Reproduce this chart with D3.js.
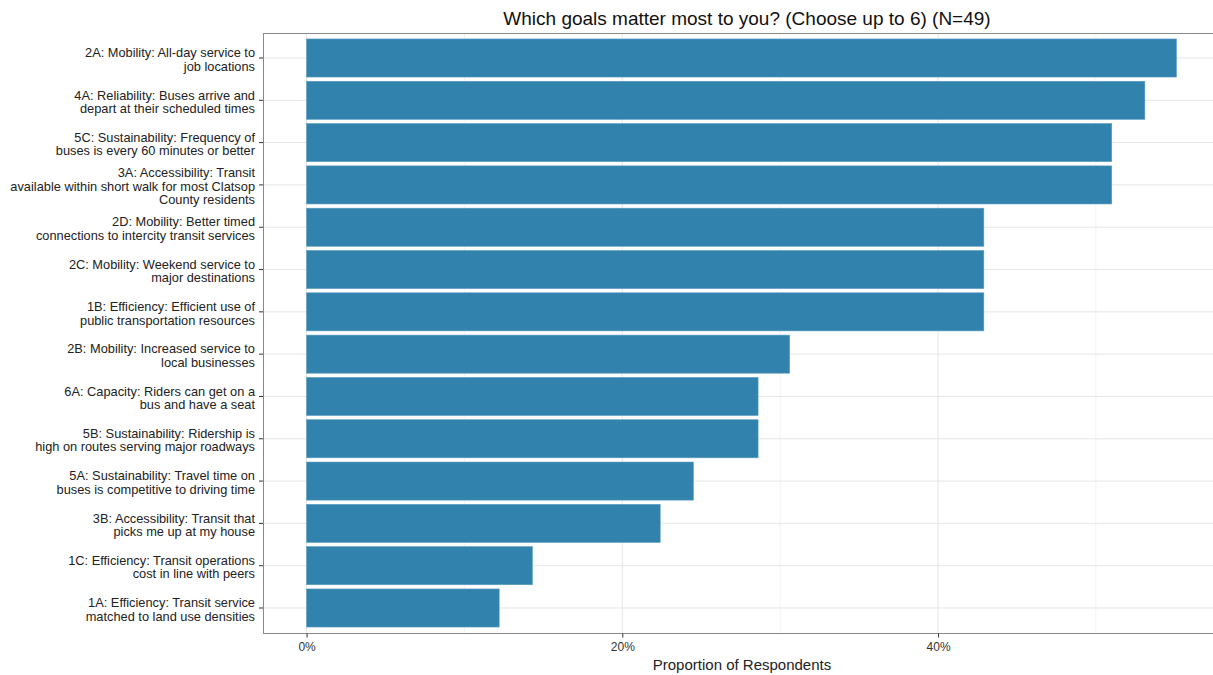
<!DOCTYPE html>
<html><head><meta charset="utf-8">
<script src="https://cdn.jsdelivr.net/npm/d3@7"></script>
<style>body{margin:0;background:#fff}svg{display:block;font-family:"Liberation Sans",Arial,sans-serif}</style>
</head><body><svg id="c" width="1213" height="675"></svg>
<script>
const categories = [
  ["2A: Mobility: All-day service to","job locations"],
  ["4A: Reliability: Buses arrive and","depart at their scheduled times"],
  ["5C: Sustainability: Frequency of","buses is every 60 minutes or better"],
  ["3A: Accessibility: Transit","available within short walk for most Clatsop","County residents"],
  ["2D: Mobility: Better timed","connections to intercity transit services"],
  ["2C: Mobility: Weekend service to","major destinations"],
  ["1B: Efficiency: Efficient use of","public transportation resources"],
  ["2B: Mobility: Increased service to","local businesses"],
  ["6A: Capacity: Riders can get on a","bus and have a seat"],
  ["5B: Sustainability: Ridership is","high on routes serving major roadways"],
  ["5A: Sustainability: Travel time on","buses is competitive to driving time"],
  ["3B: Accessibility: Transit that","picks me up at my house"],
  ["1C: Efficiency: Transit operations","cost in line with peers"],
  ["1A: Efficiency: Transit service","matched to land use densities"]
];
const proportions = [0.551, 0.531, 0.510, 0.510, 0.429, 0.429, 0.429, 0.306, 0.286, 0.286, 0.245, 0.224, 0.143, 0.122];
const majorTicks = [0, 0.2, 0.4];
const minorTicks = [0.1, 0.3, 0.5];
const title = "Which goals matter most to you? (Choose up to 6) (N=49)";
const xTitle = "Proportion of Respondents";

const svg = d3.select("#c");
const panel = {left: 263, top: 33, bottom: 633, right: 1220};
const x = d3.scaleLinear().domain([-0.0276, 0.5786]).range([panel.left, panel.right]);
const ids = categories.map((d,i)=>i);
const y = d3.scaleBand().domain(ids).range([36.85, 629.15]).paddingInner(0.1).paddingOuter(0.05);

const g = svg.append("g");
g.selectAll(".minor").data(minorTicks).join("line")
  .attr("x1", d=>x(d)).attr("x2", d=>x(d)).attr("y1", panel.top).attr("y2", panel.bottom)
  .attr("stroke", "#f4f4f4").attr("stroke-width", 1);
g.selectAll(".major").data(majorTicks).join("line")
  .attr("x1", d=>x(d)).attr("x2", d=>x(d)).attr("y1", panel.top).attr("y2", panel.bottom)
  .attr("stroke", "#e6e6e6").attr("stroke-width", 1);
g.selectAll(".hgrid").data(ids).join("line")
  .attr("x1", panel.left).attr("x2", panel.right)
  .attr("y1", d=>y(d)+y.bandwidth()/2).attr("y2", d=>y(d)+y.bandwidth()/2)
  .attr("stroke", "#e6e6e6").attr("stroke-width", 1);

g.selectAll(".bar").data(proportions).join("rect")
  .attr("x", x(0)).attr("y", (d,i)=>y(i))
  .attr("width", d=>x(d)-x(0)).attr("height", y.bandwidth())
  .attr("fill", "#3182ad").attr("stroke", "#5a9cc0").attr("stroke-width", 0.6);

svg.append("line").attr("x1", panel.left).attr("x2", 1213).attr("y1", panel.top+0.5).attr("y2", panel.top+0.5).attr("stroke", "#8a8a8a");
svg.append("line").attr("x1", panel.left).attr("x2", 1213).attr("y1", panel.bottom+0.5).attr("y2", panel.bottom+0.5).attr("stroke", "#8a8a8a");
svg.append("line").attr("x1", panel.left+0.5).attr("x2", panel.left+0.5).attr("y1", panel.top).attr("y2", panel.bottom+1).attr("stroke", "#8a8a8a");

const xAxis = d3.axisBottom(x).tickValues(majorTicks).tickFormat(d3.format(".0%")).tickSize(4).tickPadding(5);
const xa = svg.append("g").attr("transform", `translate(0,${panel.bottom+0.5})`).call(xAxis);
xa.select(".domain").remove();
xa.selectAll("line").attr("stroke", "#333");
xa.selectAll("text").attr("fill", "#333").style("font-size", "12px").style("font-family", "Liberation Sans, Arial, sans-serif");

svg.selectAll(".ytick").data(ids).join("line")
  .attr("x1", panel.left-4).attr("x2", panel.left)
  .attr("y1", d=>y(d)+y.bandwidth()/2).attr("y2", d=>y(d)+y.bandwidth()/2)
  .attr("stroke", "#333");
const lh = 13.5;
svg.selectAll(".ylab").data(categories).join("text")
  .attr("text-anchor", "end").attr("fill", "#222").style("font-size", "12.8px")
  .each(function(lines, i){
    const cy = y(i) + y.bandwidth()/2 + 1.5;
    const start = cy - (lines.length-1)*lh/2;
    d3.select(this).selectAll("tspan").data(lines).join("tspan")
      .attr("x", 255).attr("y", (d,j)=>start + j*lh).attr("dy", "0.35em").text(d=>d);
  });

svg.append("text").attr("x", 747).attr("y", 25).attr("text-anchor", "middle")
  .style("font-size", "19px").attr("fill", "#111").text(title);
svg.append("text").attr("x", 742).attr("y", 670).attr("text-anchor", "middle")
  .style("font-size", "15px").attr("fill", "#222").text(xTitle);
</script></body></html>
